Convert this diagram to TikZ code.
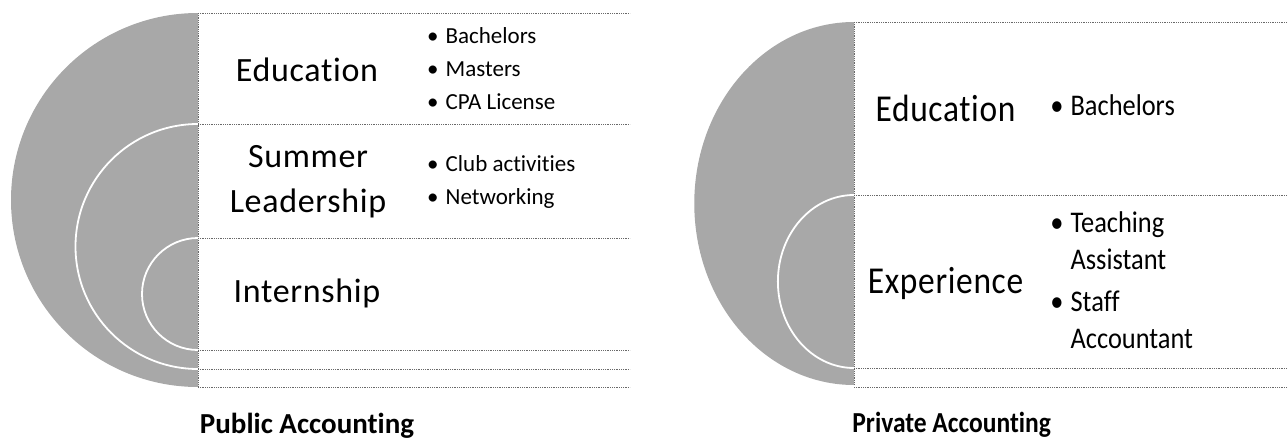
\documentclass[tikz,border=0pt]{standalone}
\usepackage{fontspec}
\setmainfont{Carlito}[Ligatures=CommonOff]
\newfontfamily\spacedfont[LetterSpace=2, Ligatures=CommonOff]{Carlito}
\definecolor{discgray}{RGB}{168,168,168}
\definecolor{rulegray}{RGB}{105,105,105}
\tikzset{
    rule/.style={rulegray, densely dotted, line width=0.8pt},
    ring/.style={white, line width=1.8pt},
    heading/.style={font={\spacedfont\fontsize{34}{45}\selectfont}, align=center, inner sep=0pt},
    bigheading/.style={font={\spacedfont\fontsize{38}{45}\selectfont}, align=center, inner sep=0pt},
    items/.style={font={\fontsize{23}{33}\selectfont}, anchor=west, inner sep=0pt},
    bigitems/.style={font={\fontsize{30}{37}\selectfont}, anchor=west, inner sep=0pt},
    caption/.style={font={\bfseries\fontsize{29}{35}\selectfont}, inner sep=0pt},
}
\begin{document}
\begin{tikzpicture}[x=1pt, y=-1pt]
    \useasboundingbox (0,0) rectangle (1288,439);

    % public accounting
    \fill[discgray] (198,13) arc[start angle=270, end angle=90, radius=187] -- cycle;
    \draw[ring] (198,124) arc[start angle=270, end angle=90, radius=122.5];
    \draw[ring] (198,238) arc[start angle=270, end angle=90, radius=56];
    \draw[rule] (198,13) -- (198,387);
    \foreach \y in {13,124,238,350,369,387}
        \draw[rule] (198,\y) -- (630,\y);

    \node[heading] (pubedu) at (307,70) {Education};
    \node[heading] (pubsum) at (308,182) {Summer\\Leadership};
    \node[heading] (pubint) at (307,293) {Internship};
    \node[items] (pubedulist) at (427,70) {\begin{tabular}{@{}l@{\hspace{7pt}}l@{}}
        \textbullet & Bachelors\\ \textbullet & Masters\\ \textbullet & CPA License\end{tabular}};
    \node[items] (pubsumlist) at (427,181) {\begin{tabular}{@{}l@{\hspace{7pt}}l@{}}
        \textbullet & Club activities\\ \textbullet & Networking\end{tabular}};
    \node[caption] (pubcap) at (307,426) {Public Accounting};

    % private accounting, drawn narrower
    \begin{scope}[shift={(854,0)}, xscale=0.88, transform shape]
        \fill[discgray] (0,22) arc[start angle=270, end angle=90, radius=181.5] -- cycle;
        \draw[ring] (0,195) arc[start angle=270, end angle=90, radius=86.5];
        \draw[rule] (0,22) -- (0,385);
        \foreach \y in {22,195,368,387}
            \draw[rule] (0,\y) -- (493,\y);

        \node[bigheading] (prvedu) at (104,108) {Education};
        \node[bigheading] (prvexp) at (104,283) {Experience};
        \node[bigitems] (prvedulist) at (223,108) {\begin{tabular}{@{}l@{\hspace{8pt}}l@{}}
            \textbullet & Bachelors\end{tabular}};
        \node[bigitems] (prvexplist) at (223,283) {\begin{tabular}{@{}l@{\hspace{8pt}}l@{}}
            \textbullet & Teaching\\ & Assistant\\[5pt] \textbullet & Staff\\ & Accountant\end{tabular}};
        \node[caption] (prvcap) at (111,425) {Private Accounting};
    \end{scope}
\end{tikzpicture}
\end{document}
